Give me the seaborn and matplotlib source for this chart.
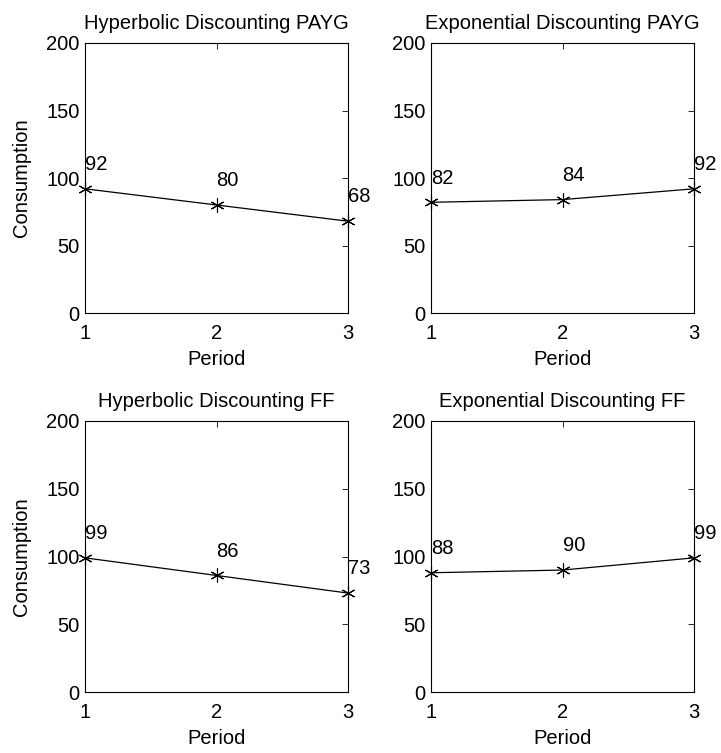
import matplotlib
matplotlib.use("Agg")
import matplotlib.pyplot as plt
import seaborn as sns
import pandas as pd

periods = [1, 2, 3]
hyper_payg = [92, 80, 68]
expo_payg = [82, 84, 92]
hyper_ff = [99, 86, 73]
expo_ff = [88, 90, 99]

titles = [
    "Hyperbolic Discounting PAYG",
    "Exponential Discounting PAYG",
    "Hyperbolic Discounting FF",
    "Exponential Discounting FF",
]
series = [hyper_payg, expo_payg, hyper_ff, expo_ff]

sns.set_style("white")
plt.rcParams["font.family"] = ["Liberation Sans", "DejaVu Sans"]
plt.rcParams["text.color"] = "black"
plt.rcParams["axes.labelcolor"] = "black"
plt.rcParams["xtick.color"] = "black"
plt.rcParams["ytick.color"] = "black"

FS = 14.5

fig = plt.figure(figsize=(7.21, 7.53), dpi=100)
W, H = 721, 753
# axes boxes in pixels: (left, top, right, bottom)
boxes = [
    (85, 43, 348, 313),
    (431, 43, 694, 313),
    (85, 421, 348, 692),
    (431, 421, 694, 692),
]

for i, (box, title, vals) in enumerate(zip(boxes, titles, series)):
    l, t, r, b = box
    ax = fig.add_axes([l / W, 1 - b / H, (r - l) / W, (b - t) / H])
    df = pd.DataFrame({"Period": periods, "Consumption": vals})
    sns.lineplot(data=df, x="Period", y="Consumption", ax=ax, color="black",
                 linewidth=0.9, marker=(6, 2, 0), markersize=10,
                 markeredgecolor="black", markeredgewidth=0.8, clip_on=False)
    for x, y in zip(periods, vals):
        ax.text(x, y + 18, f"{y}", ha="left", va="center", fontsize=FS,
                color="black", clip_on=False)
    ax.set_xlim(1, 3)
    ax.set_ylim(0, 200)
    ax.set_xticks(periods)
    ax.set_yticks([0, 50, 100, 150, 200])
    ax.tick_params(direction="in", length=4, width=0.6, top=True, right=True,
                   labelsize=FS, color="black", labelcolor="black")
    ax.tick_params(axis="x", pad=8)
    ax.tick_params(axis="y", pad=4)
    for s in ax.spines.values():
        s.set_color("black")
        s.set_linewidth(0.8)
    ax.set_title(title, fontsize=FS, pad=10, color="black")
    ax.set_xlabel("Period", fontsize=FS, labelpad=5)
    if i % 2 == 0:
        ax.set_ylabel("Consumption", fontsize=FS, labelpad=11)
    else:
        ax.set_ylabel("")

fig.savefig("out.png", dpi=100)
